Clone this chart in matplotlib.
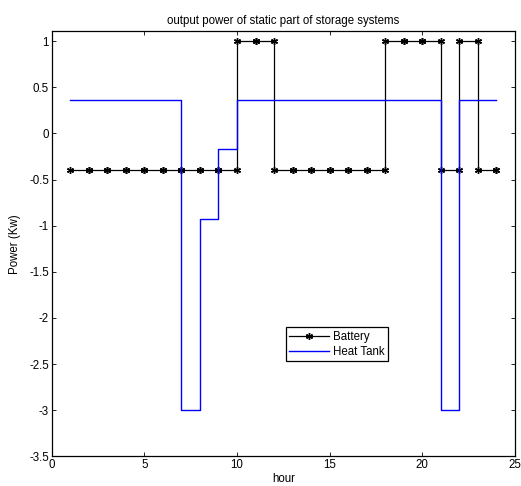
import matplotlib
matplotlib.use('Agg')
import matplotlib.pyplot as plt
import numpy as np

plt.rcParams['font.family'] = ['Liberation Sans', 'DejaVu Sans']

# data, one value per hour
hours = list(range(1, 25))
battery = [-0.4, -0.4, -0.4, -0.4, -0.4, -0.4, -0.4, -0.4, -0.4, 1, 1,
           -0.4, -0.4, -0.4, -0.4, -0.4, -0.4, 1, 1, 1, -0.4, 1, -0.4, -0.4]
heat_tank = [0.36, 0.36, 0.36, 0.36, 0.36, 0.36, -3.0, -0.93, -0.17, 0.36,
             0.36, 0.36, 0.36, 0.36, 0.36, 0.36, 0.36, 0.36, 0.36, 0.36,
             -3.0, 0.36, 0.36, 0.36]


def stairs(x, y):
    # matlab style stairs: corner points, markers land on every vertex
    xs, ys = [x[0]], [y[0]]
    for i in range(1, len(x)):
        xs += [x[i], x[i]]
        ys += [y[i-1], y[i]]
    return xs, ys


fig = plt.figure(figsize=(5.21, 4.86), dpi=100)
ax = fig.add_axes([0.0992, 0.061, 0.8893, 0.875])

bx, by = stairs(hours, battery)
hx, hy = stairs(hours, heat_tank)
ax.plot(bx, by, color='k', lw=0.9, marker=(6, 2, 0), ms=5, mew=1.0,
        label='Battery')
ax.plot(hx, hy, color='#0000ff', lw=1.0, label='Heat Tank')

ax.set_xlim(0, 25)
ax.set_ylim(-3.5, 1.11)
ax.set_xticks([0, 5, 10, 15, 20, 25])
ax.set_yticks([-3.5, -3, -2.5, -2, -1.5, -1, -0.5, 0, 0.5, 1])
ax.set_yticklabels(['-3.5', '-3', '-2.5', '-2', '-1.5', '-1', '-0.5', '0', '0.5', '1'])
ax.tick_params(direction='in', top=True, right=True, labelsize=8.3,
               length=3, width=0.6, pad=2)
for s in ax.spines.values():
    s.set_linewidth(0.9)

ax.set_title('output power of static part of storage systems', fontsize=8.3, pad=5)
ax.set_xlabel('hour', fontsize=8.3, labelpad=1)
ax.set_ylabel('Power (Kw)', fontsize=8.3, labelpad=6)

leg = ax.legend(loc='upper left', bbox_to_anchor=(0.505, 0.3035),
                borderaxespad=0, fontsize=8.3, fancybox=False,
                edgecolor='k', framealpha=1, handlelength=3.5, numpoints=1,
                borderpad=0.3, labelspacing=0.25, handletextpad=0.3)
leg.get_frame().set_linewidth(0.9)

fig.savefig('out.png', dpi=100)
